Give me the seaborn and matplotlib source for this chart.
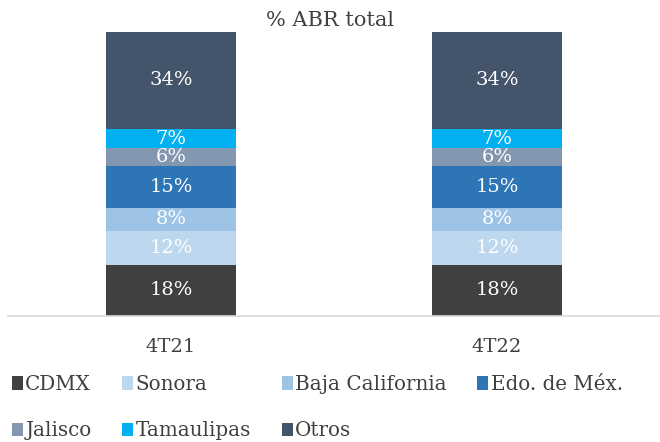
import matplotlib
matplotlib.use("Agg")
import matplotlib.pyplot as plt
from matplotlib.patches import Patch
import numpy as np
import pandas as pd
import seaborn as sns

# data
periods = ["4T21", "4T22"]
states = ["CDMX", "Sonora", "Baja California", "Edo. de Méx.", "Jalisco", "Tamaulipas", "Otros"]
share_4t21 = [18, 12, 8, 15, 6, 7, 34]
share_4t22 = [18, 12, 8, 15, 6, 7, 34]
colors = ["#404040", "#BDD7EE", "#9DC3E6", "#2E75B6", "#8497B0", "#00B0F0", "#44546A"]

sns.set_theme(style="white")
plt.rcParams["font.family"] = ["DejaVu Serif"]

df = pd.DataFrame({"state": states, "4T21": share_4t21, "4T22": share_4t22})
tops = df[periods].cumsum()

fig = plt.figure(figsize=(6.6, 4.42), dpi=100)
ax = fig.add_axes([0.012, 0.285, 0.988, 0.6425])

# stacked bars: draw cumulative totals from the top series down
for i in reversed(range(len(states))):
    sns.barplot(x=periods, y=tops.loc[i, periods].values, color=colors[i],
                width=0.40, saturation=1, ax=ax, edgecolor="none")

# segment labels
for j, p in enumerate(periods):
    bottoms = tops[p] - df[p]
    for i in range(len(states)):
        mid = bottoms[i] + df.loc[i, p] / 2
        ax.text(j, mid, f"{df.loc[i, p]}%", ha="center", va="center",
                color="white", fontsize=14)

ax.set_xlim(-0.5, 1.5)
ax.set_ylim(0, 100)
ax.set_yticks([])
ax.set_xlabel("")
ax.set_ylabel("")
for s in ["top", "left", "right"]:
    ax.spines[s].set_visible(False)
ax.spines["bottom"].set_color("#D9D9D9")
ax.spines["bottom"].set_linewidth(1.2)
ax.tick_params(axis="x", length=0, pad=16, labelsize=14, labelcolor="#404040")

fig.text(0.5, 1 - 20 / 442, "% ABR total", ha="center", va="center",
         fontsize=15, color="#404040")

# legend fills column by column, so order handles to read row-wise like the original
leg_order = [0, 4, 1, 5, 2, 6, 3]
handles = [Patch(facecolor=colors[k], edgecolor="none", label=states[k]) for k in leg_order]
fig.legend(handles=handles, loc="upper left", bbox_to_anchor=(0.018, 1 - 375 / 442),
           ncol=4, frameon=False, fontsize=14.3, handlelength=0.55, handleheight=0.7,
           handletextpad=0.12, columnspacing=1.55, labelspacing=1.38,
           borderaxespad=0, borderpad=0, labelcolor="#404040")

fig.savefig("out.png", dpi=100)
